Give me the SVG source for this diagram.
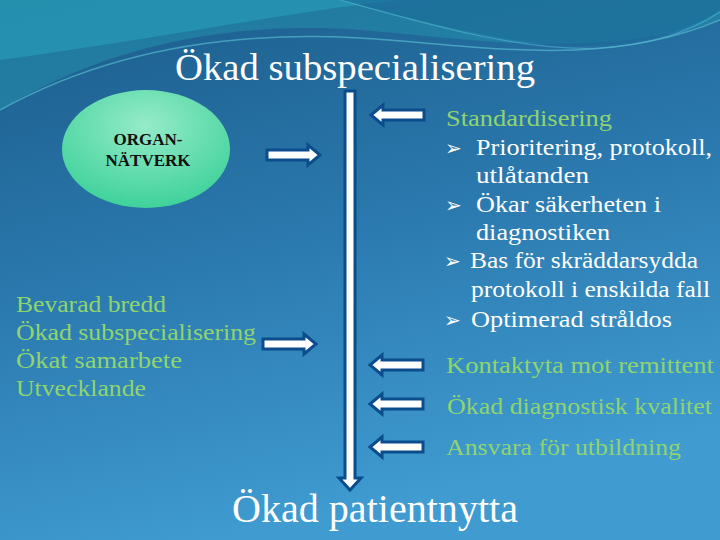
<svg xmlns="http://www.w3.org/2000/svg" width="720" height="540" viewBox="0 0 720 540">
<defs>
<linearGradient id="bg" x1="0" y1="0" x2="0.3" y2="1">
<stop offset="0" stop-color="#1b5c8a"/>
<stop offset="0.5" stop-color="#2a78ad"/>
<stop offset="1" stop-color="#3f9bd0"/>
</linearGradient>
<radialGradient id="ell" cx="0.5" cy="0.3" r="0.7">
<stop offset="0" stop-color="#95ebc8"/>
<stop offset="1" stop-color="#3fd29a"/>
</radialGradient>
<style>
.arr{fill:#ffffff;stroke:#0b4c8c;stroke-width:3;stroke-linejoin:miter}
.t{font-family:"Liberation Serif","Times New Roman",serif}
.w{fill:#ffffff}
.g{fill:#8fd46f}
.b{font-family:"DejaVu Sans",sans-serif;fill:#ffffff}
</style>
<path id="ra" d="M0,-5 L41,-5 L41,-10 L53,0 L41,10 L41,5 L0,5 Z"/>
<path id="la" d="M53,-5 L12,-5 L12,-10 L0,0 L12,10 L12,5 L53,5 Z"/>
</defs>
<rect width="720" height="540" fill="url(#bg)"/>
<path d="M0,0 L720,0 L720,20 C600,60 480,40 360,30 C220,20 100,50 0,110 Z" fill="#2490ad" opacity="0.55"/>
<path d="M0,0 L400,0 C300,10 150,40 0,60 Z" fill="#2aa6bf" opacity="0.5"/>
<path d="M0,110 C100,55 220,30 360,38 C480,45 600,70 720,20" fill="none" stroke="#5ec6d6" stroke-width="1.5" opacity="0.6"/>
<path d="M340,0 C420,20 520,50 600,45 C650,42 690,30 720,10 L720,0 Z" fill="#1a6a97" opacity="0.6"/>
<path d="M340,0 C420,22 520,52 600,48 C650,45 690,32 720,12" fill="none" stroke="#52b8d0" stroke-width="1.2" opacity="0.6"/>

<text class="t w" x="175" y="80" font-size="37" textLength="360" lengthAdjust="spacingAndGlyphs">Ökad subspecialisering</text>

<g id="organ">
<ellipse cx="146" cy="149" rx="84" ry="59" fill="url(#ell)"/>
<text class="t" x="148" y="145" font-size="17" font-weight="bold" fill="#111" text-anchor="middle">ORGAN-</text>
<text class="t" x="148" y="166" font-size="17" font-weight="bold" fill="#111" text-anchor="middle">NÄTVERK</text>
</g>

<g id="left-list" class="t g" font-size="24">
<text x="16" y="312" textLength="150" lengthAdjust="spacingAndGlyphs">Bevarad bredd</text>
<text x="16" y="340" textLength="240" lengthAdjust="spacingAndGlyphs">Ökad subspecialisering</text>
<text x="16" y="368" textLength="166" lengthAdjust="spacingAndGlyphs">Ökat samarbete</text>
<text x="16" y="396" textLength="130" lengthAdjust="spacingAndGlyphs">Utvecklande</text>
</g>

<g id="right-list" class="t" font-size="24">
<text class="g" x="446" y="126" textLength="166" lengthAdjust="spacingAndGlyphs">Standardisering</text>
<text class="b" x="445" y="155" font-size="20">➢</text>
<text class="w" x="476" y="155" textLength="236" lengthAdjust="spacingAndGlyphs">Prioritering, protokoll,</text>
<text class="w" x="476" y="183" textLength="113" lengthAdjust="spacingAndGlyphs">utlåtanden</text>
<text class="b" x="445" y="212" font-size="20">➢</text>
<text class="w" x="476" y="212" textLength="185" lengthAdjust="spacingAndGlyphs">Ökar säkerheten i</text>
<text class="w" x="476" y="240" textLength="134" lengthAdjust="spacingAndGlyphs">diagnostiken</text>
<text class="b" x="444" y="268" font-size="20">➢</text>
<text class="w" x="470" y="268" textLength="228" lengthAdjust="spacingAndGlyphs">Bas för skräddarsydda</text>
<text class="w" x="471" y="297" textLength="239" lengthAdjust="spacingAndGlyphs">protokoll i enskilda fall</text>
<text class="b" x="444" y="327" font-size="20">➢</text>
<text class="w" x="471" y="327" textLength="201" lengthAdjust="spacingAndGlyphs">Optimerad stråldos</text>
<text class="g" x="446" y="373" textLength="268" lengthAdjust="spacingAndGlyphs">Kontaktyta mot remittent</text>
<text class="g" x="447" y="414" textLength="265" lengthAdjust="spacingAndGlyphs">Ökad diagnostisk kvalitet</text>
<text class="g" x="446" y="455" textLength="235" lengthAdjust="spacingAndGlyphs">Ansvara för utbildning</text>
</g>

<text id="result" class="t w" x="232" y="522" font-size="40" textLength="286" lengthAdjust="spacingAndGlyphs">Ökad patientnytta</text>

<g id="connectors">
<path class="arr" d="M345,91 L355,91 L355,478 L361,478 L350,490 L339,478 L345,478 Z"/>
<use href="#ra" class="arr" x="267" y="155"/>
<use href="#ra" class="arr" x="263" y="344"/>
<use href="#la" class="arr" x="371" y="115"/>
<use href="#la" class="arr" x="370" y="365"/>
<use href="#la" class="arr" x="370" y="404"/>
<use href="#la" class="arr" x="370" y="447"/>
</g>
</svg>
